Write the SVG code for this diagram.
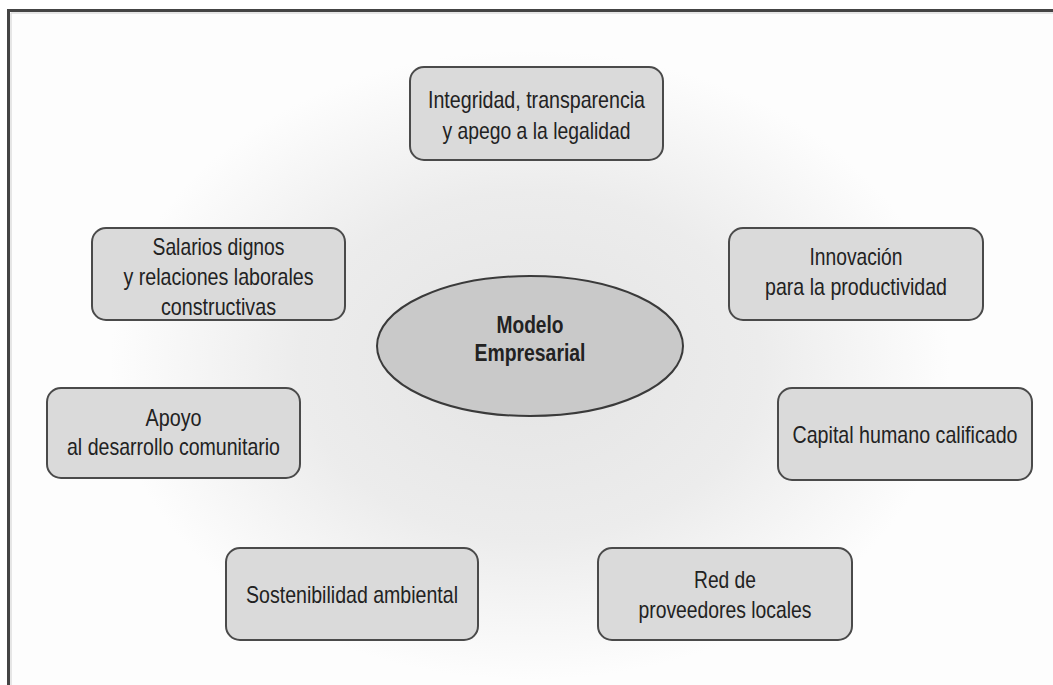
<svg xmlns="http://www.w3.org/2000/svg" width="1053" height="685" viewBox="0 0 1053 685">
<defs>
<radialGradient id="glow" cx="530" cy="365" r="420" gradientUnits="userSpaceOnUse" gradientTransform="translate(530 365) scale(1 0.75) translate(-530 -365)">
<stop offset="0" stop-color="#e4e4e4"/>
<stop offset="0.55" stop-color="#ececec"/>
<stop offset="1" stop-color="#fdfdfd"/>
</radialGradient>
<style>
.box{fill:#dadada;stroke:#4a4a4a;stroke-width:2}
.ell{fill:#c9c9c9;stroke:#3a3a3a;stroke-width:2}
.t{font-family:"Liberation Sans Narrow","Liberation Sans",Arial,sans-serif;font-size:24px;fill:#222;text-anchor:middle}
.b{font-weight:bold}
</style>
</defs>
<rect x="0" y="0" width="1053" height="685" fill="#fdfdfd"/>
<rect x="0" y="0" width="1053" height="685" fill="url(#glow)"/>
<rect x="0" y="0" width="1053" height="9" fill="#ffffff"/>
<rect x="0" y="0" width="8" height="685" fill="#ffffff"/>
<path d="M8.5 685 V10.5 H1053" fill="none" stroke="#444" stroke-width="3"/>
<path d="M11 685 V13 H1053" fill="none" stroke="#cfcfcf" stroke-width="1"/>
<g id="connectors"></g>
<g id="center">
<ellipse class="ell" cx="530" cy="346" rx="153" ry="70"/>
<text class="t b" x="530" y="333" textLength="67" lengthAdjust="spacingAndGlyphs">Modelo</text>
<text class="t b" x="530" y="361" textLength="111" lengthAdjust="spacingAndGlyphs">Empresarial</text>
</g>
<g id="n1">
<rect class="box" x="410" y="67" width="253" height="93" rx="14"/>
<text class="t" x="536.5" y="108" textLength="217" lengthAdjust="spacingAndGlyphs">Integridad, transparencia</text>
<text class="t" x="536.5" y="139" textLength="188" lengthAdjust="spacingAndGlyphs">y apego a la legalidad</text>
</g>
<g id="n2">
<rect class="box" x="92" y="228" width="253" height="92" rx="14"/>
<text class="t" x="218.5" y="255" textLength="132" lengthAdjust="spacingAndGlyphs">Salarios dignos</text>
<text class="t" x="218.5" y="285" textLength="190" lengthAdjust="spacingAndGlyphs">y relaciones laborales</text>
<text class="t" x="218.5" y="315" textLength="115" lengthAdjust="spacingAndGlyphs">constructivas</text>
</g>
<g id="n3">
<rect class="box" x="729" y="228" width="254" height="92" rx="14"/>
<text class="t" x="856" y="265" textLength="93" lengthAdjust="spacingAndGlyphs">Innovación</text>
<text class="t" x="856" y="295" textLength="182" lengthAdjust="spacingAndGlyphs">para la productividad</text>
</g>
<g id="n4">
<rect class="box" x="47" y="388" width="253" height="90" rx="14"/>
<text class="t" x="173.5" y="426" textLength="56" lengthAdjust="spacingAndGlyphs">Apoyo</text>
<text class="t" x="173.5" y="455" textLength="213" lengthAdjust="spacingAndGlyphs">al desarrollo comunitario</text>
</g>
<g id="n5">
<rect class="box" x="778" y="388" width="254" height="92" rx="14"/>
<text class="t" x="905" y="443" textLength="225" lengthAdjust="spacingAndGlyphs">Capital humano calificado</text>
</g>
<g id="n6">
<rect class="box" x="226" y="548" width="252" height="92" rx="14"/>
<text class="t" x="352" y="603" textLength="212" lengthAdjust="spacingAndGlyphs">Sostenibilidad ambiental</text>
</g>
<g id="n7">
<rect class="box" x="598" y="548" width="254" height="92" rx="14"/>
<text class="t" x="725" y="588" textLength="62" lengthAdjust="spacingAndGlyphs">Red de</text>
<text class="t" x="725" y="618" textLength="173" lengthAdjust="spacingAndGlyphs">proveedores locales</text>
</g>
</svg>
